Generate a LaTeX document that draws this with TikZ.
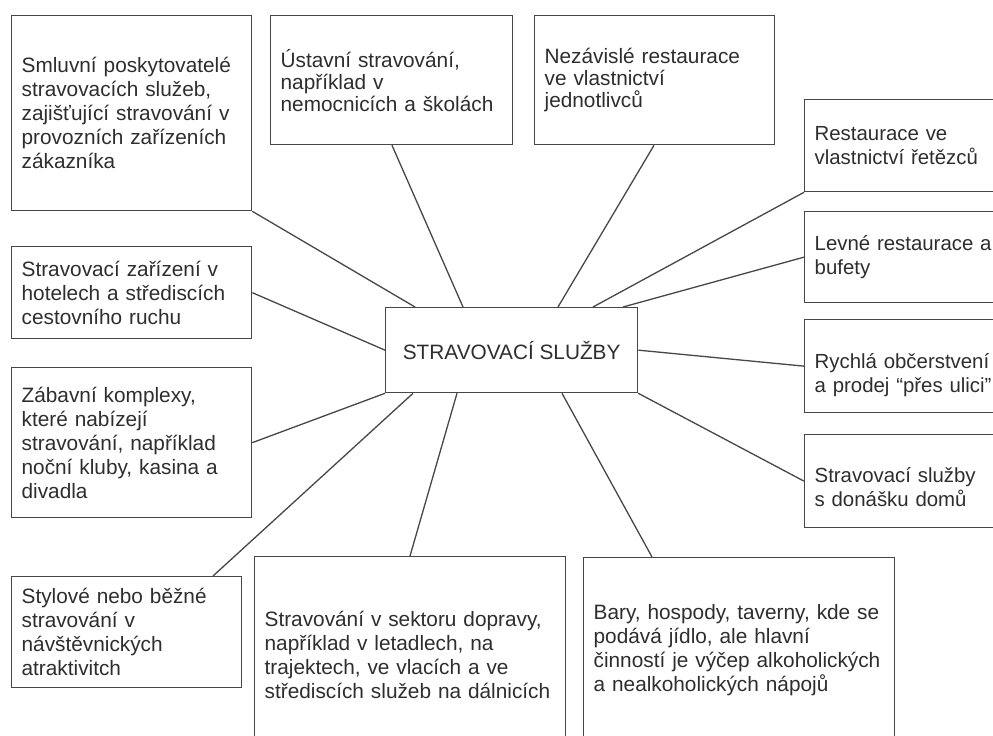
\documentclass[tikz,border=0pt]{standalone}
\usepackage{fontspec}
\setmainfont{Liberation Sans}
\definecolor{lineC}{HTML}{474747}
\definecolor{textC}{HTML}{2E2E2E}
\begin{document}
\begin{tikzpicture}[x=1pt,y=-1pt,
  box/.style={draw=lineC, line width=1.3pt, rectangle, anchor=north west,
    inner xsep=10pt, inner ysep=0pt, align=left, text=textC,
    font=\fontsize{20.8}{24}\selectfont},
  tight/.style={font=\fontsize{20.8}{22}\selectfont},
  rightcol/.style={font=\fontsize{20.4}{24}\selectfont},
  link/.style={draw=lineC, line width=1.3pt}]
\useasboundingbox (0,0) rectangle (993,736);
\clip (0,0) rectangle (993,736);
\fill[white] (0,0) rectangle (993,736);

% center
\node[box, align=center, inner xsep=0pt, minimum width=252pt, minimum height=85pt] (c) at (385,307) {STRAVOVACÍ SLUŽBY};

% left column
\node[box, text width=220pt, minimum height=195pt] (n1) at (11,15)
  {Smluvní poskytovatelé\\stravovacích služeb,\\zajišťující stravování v\\provozních zařízeních\\zákazníka};
\node[box, text width=220pt, minimum height=92pt] (n9) at (11,246)
  {Stravovací zařízení v\\hotelech a střediscích\\cestovního ruchu};
\node[box, text width=220pt, minimum height=150pt] (n10) at (11,367)
  {Zábavní komplexy,\\které nabízejí\\stravování, například\\noční kluby, kasina a\\divadla};
\node[box, text width=210pt, minimum height=111pt] (n11) at (11,576)
  {Stylové nebo běžné\\stravování v\\návštěvnických\\atraktivitch};

% top row
\node[box, tight, text width=222pt, minimum height=129pt] (n2) at (270,15)
  {Ústavní stravování,\\například v\\nemocnicích a školách};
\node[box, tight, text width=220pt, minimum height=129pt] (n3) at (534,15)
  {Nezávislé restaurace\\ve vlastnictví\\jednotlivců};

% right column
\node[box, rightcol, text width=210pt, minimum height=92pt] (n4) at (804,99)
  {Restaurace ve\\vlastnictví řetězců};
\node[box, rightcol, text width=210pt, minimum height=91pt] (n5) at (804,211)
  {Levné restaurace a\\bufety};
\node[box, rightcol, text width=210pt, minimum height=93pt] (n6) at (804,319)
  {\par\vspace*{9pt}\noindent Rychlá občerstvení\\a prodej “přes ulici”};
\node[box, rightcol, text width=210pt, minimum height=93pt] (n7) at (804,434)
  {\par\vspace*{3pt}\noindent Stravovací služby\\s donášku domů};

% bottom row
\node[box, text width=291pt, minimum height=196pt] (n12) at (254,556)
  {Stravování v sektoru dopravy,\\například v letadlech, na\\trajektech, ve vlacích a ve\\střediscích služeb na dálnicích};
\node[box, text width=291pt, minimum height=184pt] (n13) at (583,557)
  {Bary, hospody, taverny, kde se\\podává jídlo, ale hlavní\\činností je výčep alkoholických\\a nealkoholických nápojů};

% connectors
\draw[link] (n1.south east) -- ([xshift=30pt]c.north west);
\draw[link] ([xshift=122pt]n2.south west) -- ([xshift=78pt]c.north west);
\draw[link] ([xshift=120pt]n3.south west) -- ([xshift=173pt]c.north west);
\draw[link] (n4.south west) -- ([xshift=208pt]c.north west);
\draw[link] (n5.west) -- ([xshift=238pt]c.north west);
\draw[link] (c.east) -- (n6.west);
\draw[link] (c.south east) -- (n7.west);
\draw[link] ([xshift=177pt]c.south west) -- ([xshift=69pt]n13.north west);
\draw[link] ([xshift=72pt]c.south west) -- ([xshift=156pt]n12.north west);
\draw[link] ([xshift=28pt]c.south west) -- ([xshift=202pt]n11.north west);
\draw[link] (c.south west) -- (n10.east);
\draw[link] (n9.east) -- (c.west);
\end{tikzpicture}
\end{document}
